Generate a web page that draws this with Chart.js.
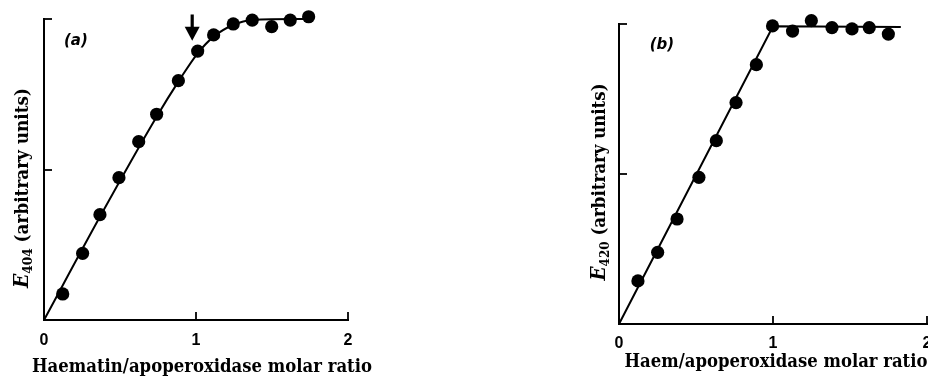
<!DOCTYPE html>
<html><head><meta charset="utf-8">
<script src="https://cdn.jsdelivr.net/npm/chart.js@4"></script>
<style>
html,body{margin:0;padding:0;background:#fff;width:928px;height:379px;overflow:hidden;position:relative;}
.panel{position:absolute;top:0;}
</style></head><body>
<div class="panel" style="left:0;width:380px;height:379px"><canvas id="ca" width="380" height="379" style="width:380px;height:379px"></canvas></div>
<div class="panel" style="left:560px;width:380px;height:379px"><canvas id="cb" width="380" height="379" style="width:380px;height:379px"></canvas></div>
<script>
// ---- data ----
const xTickValues = [0, 1, 2];
const xTickLabels = ['0', '1', '2'];

// Panel (a): haematin titration, E404
const ratioA = [0.123, 0.254, 0.368, 0.493, 0.623, 0.741, 0.884, 1.011, 1.116, 1.245, 1.370, 1.498, 1.620, 1.741];
const e404   = [0.173, 0.443, 0.700, 0.946, 1.185, 1.367, 1.590, 1.787, 1.894, 1.967, 1.993, 1.949, 1.993, 2.015];
const curveAX = [0, 0.368, 0.741, 0.884, 1.011, 1.116, 1.245, 1.370, 1.741];
const curveAY = [0, 0.686, 1.351, 1.584, 1.772, 1.883, 1.960, 1.993, 2.000];
const arrowA  = [0.975, 2.03, 1.855]; // x, top, tip (data units)

// Panel (b): haem titration, E420
const ratioB = [0.123, 0.251, 0.377, 0.519, 0.632, 0.760, 0.892, 0.997, 1.127, 1.249, 1.383, 1.513, 1.625, 1.749];
const e420   = [0.287, 0.478, 0.700, 0.978, 1.222, 1.476, 1.729, 1.987, 1.953, 2.022, 1.976, 1.967, 1.976, 1.933];
const lineBX = [0, 1.0, 1.83];
const lineBY = [0, 1.985, 1.980];

const panelTexts = {
  a: { letter: '(a)', sub: '404', xTitle: 'Haematin/apoperoxidase molar ratio' },
  b: { letter: '(b)', sub: '420', xTitle: 'Haem/apoperoxidase molar ratio' }
};

// ---- plugins ----
const inwardTicks = {
  id: 'inwardTicks',
  afterDraw(chart) {
    const ctx = chart.ctx, xs = chart.scales.x, ys = chart.scales.y;
    ctx.save();
    ctx.strokeStyle = '#000'; ctx.lineWidth = 1.8;
    xs.ticks.forEach(t => {
      if (t.value === 0) return;
      const px = Math.round(xs.getPixelForValue(t.value));
      ctx.beginPath(); ctx.moveTo(px, xs.top); ctx.lineTo(px, xs.top - 8); ctx.stroke();
    });
    ys.ticks.forEach(t => {
      if (t.value === 0) return;
      const py = Math.round(ys.getPixelForValue(t.value));
      ctx.beginPath(); ctx.moveTo(ys.right, py); ctx.lineTo(ys.right + 8, py); ctx.stroke();
    });
    ctx.restore();
  }
};

const annot = {
  id: 'annot',
  afterDraw(chart, args, o) {
    const ctx = chart.ctx, xs = chart.scales.x, ys = chart.scales.y;
    ctx.save();
    ctx.fillStyle = '#000'; ctx.strokeStyle = '#000';
    // panel letter
    ctx.font = 'italic bold 15px "DejaVu Sans"';
    ctx.textAlign = 'center'; ctx.textBaseline = 'middle';
    ctx.fillText(o.texts.letter, xs.getPixelForValue(o.letterAt[0]), ys.getPixelForValue(o.letterAt[1]));
    // arrow
    if (o.arrow) {
      const ax = xs.getPixelForValue(o.arrow[0]);
      const top = ys.getPixelForValue(o.arrow[1]);
      const tip = ys.getPixelForValue(o.arrow[2]);
      const headH = 14, headW = 7.5;
      ctx.lineWidth = 3.2;
      ctx.beginPath(); ctx.moveTo(ax, top); ctx.lineTo(ax, tip - headH + 1); ctx.stroke();
      ctx.beginPath(); ctx.moveTo(ax - headW, tip - headH); ctx.lineTo(ax + headW, tip - headH); ctx.lineTo(ax, tip); ctx.closePath(); ctx.fill();
    }
    // x title
    ctx.font = 'bold 18px "DejaVu Serif"';
    ctx.textAlign = 'center'; ctx.textBaseline = 'alphabetic';
    ctx.fillText(o.texts.xTitle, o.xTitlePos[0], o.xTitlePos[1], o.xTitleWidth);
    // y title (rotated, E italic with subscript)
    const fE = 'italic bold 20px "DejaVu Serif"', fS = 'bold 13px "DejaVu Serif"', fR = 'bold 18px "DejaVu Serif"';
    const rest = ' (arbitrary units)';
    ctx.font = fE; const wE = ctx.measureText('E').width;
    ctx.font = fS; const wS = ctx.measureText(o.texts.sub).width;
    ctx.font = fR; const wR = ctx.measureText(rest).width;
    const total = wE + wS + wR;
    const k = Math.min(1, o.yTitleLen / total);
    ctx.translate(o.yTitlePos[0], o.yTitlePos[1]);
    ctx.rotate(-Math.PI / 2);
    ctx.scale(k, 1);
    ctx.textAlign = 'left';
    let x0 = -total / 2;
    const base = 7;
    ctx.font = fE; ctx.fillText('E', x0, base); x0 += wE;
    ctx.font = fS; ctx.fillText(o.texts.sub, x0, base + 4); x0 += wS;
    ctx.font = fR; ctx.fillText(rest, x0, base);
    ctx.restore();
  }
};

function makeChart(id, cfg) {
  return new Chart(document.getElementById(id), {
    type: 'scatter',
    data: {
      datasets: [
        {
          type: 'line',
          data: cfg.lineX.map((x, i) => ({ x, y: cfg.lineY[i] })),
          borderColor: '#000', borderWidth: 2, pointRadius: 0, fill: false,
          cubicInterpolationMode: cfg.smooth ? 'monotone' : 'default', tension: 0,
          clip: false, order: 2
        },
        {
          type: 'scatter',
          data: cfg.px.map((x, i) => ({ x, y: cfg.py[i] })),
          backgroundColor: '#000', borderColor: '#000', pointRadius: 6.6, pointBorderWidth: 0,
          clip: false, order: 1
        }
      ]
    },
    options: {
      responsive: false, animation: false, events: [],
      layout: { padding: { left: cfg.padL, right: cfg.padR, top: cfg.padT, bottom: 0 } },
      plugins: {
        legend: { display: false }, tooltip: { enabled: false },
        annot: cfg.annot
      },
      scales: {
        x: {
          type: 'linear', min: 0, max: 2,
          afterBuildTicks: s => { s.ticks = xTickValues.map(v => ({ value: v })); },
          ticks: {
            color: '#000', padding: cfg.tickPad, maxRotation: 0, autoSkip: false,
            font: { family: '"Liberation Sans"', weight: 'bold', size: 16 },
            callback: (v) => xTickLabels[xTickValues.indexOf(v)]
          },
          grid: { display: true, drawOnChartArea: false, drawTicks: false },
          border: { display: true, color: '#000', width: 2 },
          afterFit: s => { s.height = cfg.axisH; s.paddingLeft = 0; s.paddingRight = 0; }
        },
        y: {
          type: 'linear', min: 0, max: 2,
          ticks: { display: false, stepSize: 1 },
          grid: { display: true, drawOnChartArea: false, drawTicks: false },
          border: { display: true, color: '#000', width: 2 },
          afterFit: s => { s.width = 0; s.paddingTop = 0; s.paddingBottom = 0; }
        }
      }
    },
    plugins: [inwardTicks, annot]
  });
}

makeChart('ca', {
  lineX: curveAX, lineY: curveAY, smooth: true, px: ratioA, py: e404,
  padL: 44, padR: 32, padT: 19, axisH: 59, tickPad: 11,
  annot: { texts: panelTexts.a, letterAt: [0.21, 1.85], arrow: arrowA,
           xTitlePos: [202, 372], xTitleWidth: 340, yTitlePos: [21, 188], yTitleLen: 200 }
});
makeChart('cb', {
  lineX: lineBX, lineY: lineBY, smooth: false, px: ratioB, py: e420,
  padL: 59, padR: 13, padT: 24, axisH: 55, tickPad: 9.5,
  annot: { texts: panelTexts.b, letterAt: [0.279, 1.86], arrow: null,
           xTitlePos: [216, 367], xTitleWidth: 303, yTitlePos: [38, 182], yTitleLen: 197 }
});
</script>
</body></html>
